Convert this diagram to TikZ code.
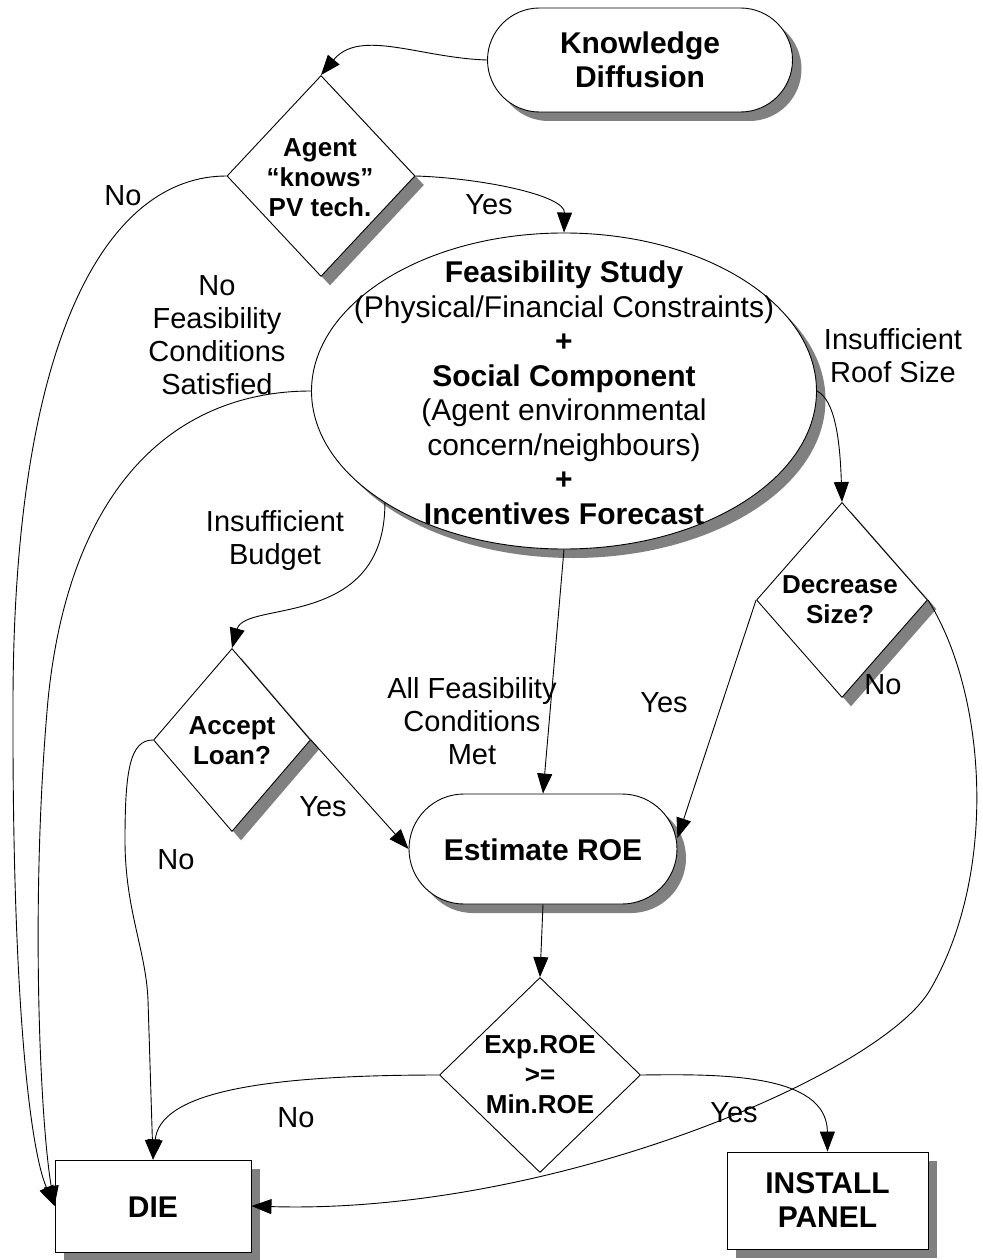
\documentclass[tikz,border=0pt]{standalone}
\usepackage{fontspec}
\setmainfont{Liberation Sans}
\usetikzlibrary{shapes.geometric,shapes.misc,shadows,arrows.meta}
\begin{document}
\begin{tikzpicture}[x=1pt,y=-1pt,
  shad/.style={drop shadow={shadow xshift=9pt,shadow yshift=-9pt,opacity=1,fill=black!50}},
  base/.style={draw=black,line width=0.9pt,fill=white,inner sep=0pt},
  term/.style={base,rounded rectangle,shad},
  decision/.style={base,diamond},
  proc/.style={base,rectangle,shad},
  bigbold/.style={font=\fontsize{30}{34.5}\selectfont\bfseries,align=center},
  dtext/.style={font=\fontsize{26}{30}\selectfont\bfseries,align=center},
  lbl/.style={font=\fontsize{29}{33}\selectfont,align=center},
  conn/.style={line width=0.9pt,-{Triangle[length=20pt,width=15pt]}},
]
\useasboundingbox (0,0) rectangle (982,1260);

% shapes
\node[term,minimum width=305pt,minimum height=104pt] (kd) at (640,60) {};
\node[bigbold] (kdT) at (kd) {Knowledge\\Diffusion};

\node[decision,shad,minimum width=188pt,minimum height=201pt] (agent) at (321,176) {};
\node[dtext] (agentT) at (320,178) {Agent\\“knows”\\PV tech.};

\node[base,ellipse,shad,minimum width=505pt,minimum height=316pt] (ell) at (564,391) {};
\node[font=\fontsize{30}{34.5}\selectfont,align=center] (ellT) at (564,393)
  {\textbf{Feasibility Study}\\(Physical/Financial Constraints)\\\textbf{+}\\\textbf{Social Component}\\(Agent environmental\\concern/neighbours)\\\textbf{+}\\\textbf{Incentives Forecast}};

\node[decision,shad,minimum width=171pt,minimum height=195pt] (dec) at (842,600) {};
\node[dtext] (decT) at (840,600) {Decrease\\Size?};

\node[decision,shad,minimum width=157pt,minimum height=183pt] (loan) at (232,740) {};
\node[dtext] (loanT) at (232,741) {Accept\\Loan?};

\node[term,minimum width=268pt,minimum height=110pt] (roe) at (543,849) {};
\node[bigbold] (roeT) at (543,850) {Estimate ROE};

\node[decision,minimum width=201pt,minimum height=195pt] (exp) at (540,1075) {};
\node[dtext] (expT) at (540,1075) {Exp.ROE\\>=\\Min.ROE};

\node[proc,minimum width=196pt,minimum height=92pt] (die) at (153,1206) {};
\node[bigbold] (dieT) at (153,1207) {DIE};

\node[proc,minimum width=201pt,minimum height=97pt] (inst) at (827.5,1200.5) {};
\node[bigbold] (instT) at (827.5,1200) {INSTALL\\PANEL};

% labels
\node[lbl] (l1) at (123,196) {No};
\node[lbl] (l2) at (489,205) {Yes};
\node[lbl] (l3) at (217,335) {No\\Feasibility\\Conditions\\Satisfied};
\node[lbl] (l4) at (893,356) {Insufficient\\Roof Size};
\node[lbl] (l5) at (275,540) {Insufficient\\Budget};
\node[lbl] (l6) at (472,721) {All Feasibility\\Conditions\\Met};
\node[lbl] (l7) at (323,807) {Yes};
\node[lbl] (l8) at (664,703) {Yes};
\node[lbl] (l9) at (883,685) {No};
\node[lbl] (l10) at (176,860) {No};
\node[lbl] (l11) at (296,1118) {No};
\node[lbl] (l12) at (734,1113) {Yes};

% connectors
\draw[conn] (kd.west) .. controls (420,58) and (360,28) .. (agent.north);
\draw[conn] (agent.east) .. controls (480,178) and (565,195) .. (ell.north);
\draw[conn] (agent.west) .. controls (110,176) and (14,330) .. (13,700) .. controls (12,1000) and (30,1150) .. (die.west);
\draw[conn] (ell.west) .. controls (180,391) and (70,480) .. (48,700) .. controls (30,900) and (40,1120) .. (die.west);
\draw[conn] (ell.east) .. controls (835,400) and (840,440) .. (dec.north);
\draw[conn] (ell.212) .. controls (385,630) and (245,600) .. (loan.north);
\draw[conn] (ell.south) -- (roe.north);
\draw[conn] (dec.west) -- ([yshift=11pt]roe.east);
\draw[conn] (dec.east) .. controls (985,690) and (1000,870) .. (930,990) .. controls (880,1075) and (550,1215) .. (die.east);
\draw[conn] (loan.east) -- (roe.west);
\draw[conn] (loan.west) .. controls (130,740) and (125,770) .. (125,840) .. controls (125,910) and (146,950) .. (148,1000) -- (die.north);
\draw[conn] (roe.south) -- (exp.north);
\draw[conn] (exp.west) .. controls (250,1075) and (160,1095) .. (die.north);
\draw[conn] (exp.east) .. controls (719,1074) and (827,1073) .. (inst.north);
\end{tikzpicture}
\end{document}
